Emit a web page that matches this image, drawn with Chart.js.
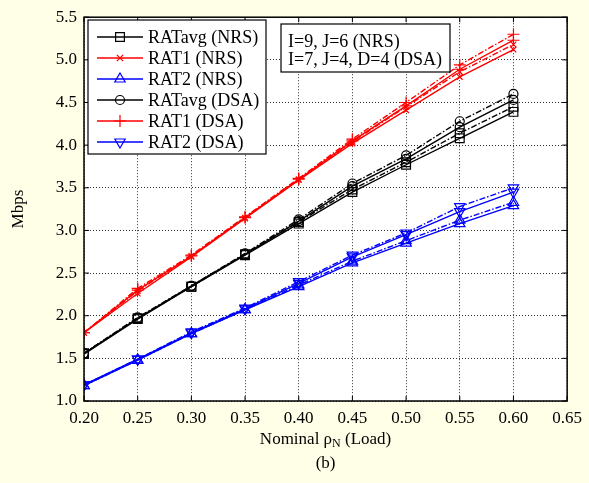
<!DOCTYPE html>
<html>
<head>
    <title>Mbps vs Nominal load</title>
    <script src="https://cdn.jsdelivr.net/npm/chart.js@4.4.1/dist/chart.umd.min.js"></script>
    <style>
        body { margin: 0; background: #fffee6; }
        .wrap { width: 589px; height: 483px; }
    </style>
</head>
<body>
    <div class="wrap"><canvas id="c" width="589" height="483"></canvas></div>

    <script>
        // load points (x axis)
        const loads = [0.20, 0.25, 0.30, 0.35, 0.40, 0.45, 0.50, 0.55, 0.60];
        const xTicks = [0.20, 0.25, 0.30, 0.35, 0.40, 0.45, 0.50, 0.55, 0.60, 0.65];
        const yTicks = [1.0, 1.5, 2.0, 2.5, 3.0, 3.5, 4.0, 4.5, 5.0, 5.5];

        // solid lines (legend entries)
        const ratAvgNrs = [1.55, 1.96, 2.34, 2.71, 3.08, 3.45, 3.77, 4.08, 4.39];
        const rat1Nrs   = [1.80, 2.26, 2.69, 3.14, 3.59, 4.02, 4.41, 4.80, 5.12];
        const rat2Nrs   = [1.18, 1.48, 1.79, 2.07, 2.34, 2.62, 2.85, 3.08, 3.29];
        const ratAvgDsa = [1.56, 1.97, 2.35, 2.72, 3.11, 3.52, 3.84, 4.21, 4.53];
        const rat1Dsa   = [1.80, 2.30, 2.70, 3.15, 3.60, 4.05, 4.46, 4.89, 5.23];
        const rat2Dsa   = [1.19, 1.49, 1.80, 2.08, 2.38, 2.69, 2.95, 3.22, 3.45];

        // dash-dot companions
        const ratAvgNrsDd = [1.56, 1.97, 2.34, 2.72, 3.10, 3.48, 3.80, 4.14, 4.45];
        const rat1NrsDd   = [1.80, 2.29, 2.70, 3.15, 3.60, 4.04, 4.45, 4.86, 5.18];
        const rat2NrsDd   = [1.18, 1.48, 1.79, 2.07, 2.36, 2.64, 2.88, 3.12, 3.33];
        const ratAvgDsaDd = [1.56, 1.98, 2.35, 2.73, 3.13, 3.55, 3.88, 4.28, 4.60];
        const rat1DsaDd   = [1.80, 2.32, 2.71, 3.16, 3.61, 4.07, 4.50, 4.94, 5.30];
        const rat2DsaDd   = [1.19, 1.49, 1.81, 2.09, 2.40, 2.71, 2.97, 3.28, 3.50];

        const infoLines = ['I=9, J=6 (NRS)', 'I=7, J=4, D=4 (DSA)'];

        const SERIF = '"Liberation Serif", "DejaVu Serif", serif';
        const DASHDOT = [6, 2, 1.5, 2];

        function pts(vals) {
            return vals.map((v, i) => ({ x: loads[i], y: v }));
        }

        function ds(label, vals, color, style, radius, rot, dash) {
            return {
                label: label,
                data: pts(vals),
                borderColor: color,
                borderWidth: 1.4,
                borderDash: dash || [],
                pointStyle: style,
                pointRadius: radius,
                pointRotation: rot,
                pointBorderColor: color,
                pointBackgroundColor: 'rgba(0,0,0,0)',
                pointBorderWidth: 1.2,
                showInLegend: !dash
            };
        }

        const datasets = [
            ds('RATavg (NRS)', ratAvgNrs, '#000', 'rect', 6.2, 0),
            ds('RAT1 (NRS)', rat1Nrs, '#ff0000', 'crossRot', 4, 0),
            ds('RAT2 (NRS)', rat2Nrs, '#0000ff', 'triangle', 6, 0),
            ds('RATavg (DSA)', ratAvgDsa, '#000', 'circle', 4.5, 0),
            ds('RAT1 (DSA)', rat1Dsa, '#ff0000', 'cross', 6, 0),
            ds('RAT2 (DSA)', rat2Dsa, '#0000ff', 'triangle', 6, 180),
            ds('', ratAvgNrsDd, '#000', 'rect', 6.2, 0, DASHDOT),
            ds('', rat1NrsDd, '#ff0000', 'crossRot', 4, 0, DASHDOT),
            ds('', rat2NrsDd, '#0000ff', 'triangle', 6, 0, DASHDOT),
            ds('', ratAvgDsaDd, '#000', 'circle', 4.5, 0, DASHDOT),
            ds('', rat1DsaDd, '#ff0000', 'cross', 6, 0, DASHDOT),
            ds('', rat2DsaDd, '#0000ff', 'triangle', 6, 180, DASHDOT)
        ];

        function marker(ctx, style, x, y, r, rot) {
            ctx.beginPath();
            if (style === 'rect') {
                const s = r * Math.SQRT1_2;
                ctx.rect(x - s, y - s, 2 * s, 2 * s);
            } else if (style === 'circle') {
                ctx.arc(x, y, r, 0, Math.PI * 2);
            } else if (style === 'triangle') {
                const d = rot === 180 ? -1 : 1;
                ctx.moveTo(x, y - d * r);
                ctx.lineTo(x + r * 0.866, y + d * r * 0.5);
                ctx.lineTo(x - r * 0.866, y + d * r * 0.5);
                ctx.closePath();
            } else if (style === 'cross') {
                ctx.moveTo(x - r, y); ctx.lineTo(x + r, y);
                ctx.moveTo(x, y - r); ctx.lineTo(x, y + r);
            } else if (style === 'crossRot') {
                const s = r * 0.8;
                ctx.moveTo(x - s, y - s); ctx.lineTo(x + s, y + s);
                ctx.moveTo(x - s, y + s); ctx.lineTo(x + s, y - s);
            }
            ctx.stroke();
        }

        const decor = {
            id: 'decor',
            beforeDraw(chart) {
                const { ctx, chartArea: a } = chart;
                ctx.save();
                ctx.fillStyle = '#fffee6';
                ctx.fillRect(0, 0, chart.width, chart.height);
                ctx.fillStyle = '#fff';
                ctx.fillRect(a.left, a.top, a.right - a.left, a.bottom - a.top);
                ctx.restore();
            },
            afterDraw(chart) {
                const { ctx, chartArea: a, scales } = chart;
                ctx.save();
                // frame
                ctx.strokeStyle = '#000';
                ctx.lineWidth = 1.5;
                ctx.setLineDash([]);
                ctx.strokeRect(a.left, a.top, a.right - a.left, a.bottom - a.top);
                // inward ticks
                ctx.lineWidth = 1;
                ctx.beginPath();
                xTicks.forEach(t => {
                    const px = scales.x.getPixelForValue(t);
                    ctx.moveTo(px, a.bottom); ctx.lineTo(px, a.bottom - 5);
                    ctx.moveTo(px, a.top); ctx.lineTo(px, a.top + 5);
                });
                yTicks.forEach(t => {
                    const py = scales.y.getPixelForValue(t);
                    ctx.moveTo(a.left, py); ctx.lineTo(a.left + 5, py);
                    ctx.moveTo(a.right, py); ctx.lineTo(a.right - 5, py);
                });
                ctx.stroke();

                // legend box
                const lx = 88, ly = 20, lw = 178, lh = 134;
                ctx.fillStyle = '#fff';
                ctx.fillRect(lx, ly, lw, lh);
                ctx.strokeStyle = '#000';
                ctx.lineWidth = 1.2;
                ctx.strokeRect(lx, ly, lw, lh);
                ctx.font = '18px ' + SERIF;
                ctx.textBaseline = 'middle';
                ctx.textAlign = 'left';
                let row = 0;
                chart.data.datasets.forEach(d => {
                    if (!d.showInLegend) return;
                    const cy = ly + 17 + row * 21;
                    ctx.strokeStyle = d.borderColor;
                    ctx.lineWidth = 1.4;
                    ctx.beginPath();
                    ctx.moveTo(97, cy); ctx.lineTo(143, cy);
                    ctx.stroke();
                    ctx.lineWidth = 1.2;
                    marker(ctx, d.pointStyle, 120, cy, d.pointRadius, d.pointRotation);
                    ctx.fillStyle = '#000';
                    ctx.fillText(d.label, 148, cy + 1);
                    row++;
                });

                // info box
                const bx = 281, by = 24, bw = 169, bh = 48;
                ctx.fillStyle = '#fff';
                ctx.fillRect(bx, by, bw, bh);
                ctx.strokeStyle = '#000';
                ctx.lineWidth = 1.2;
                ctx.strokeRect(bx, by, bw, bh);
                ctx.fillStyle = '#000';
                infoLines.forEach((t, i) => ctx.fillText(t, 288, 42 + i * 18));

                // axis titles
                const FS = 17;
                const main = 'Nominal \u03c1', sub = 'N', rest = ' (Load)';
                ctx.font = FS + 'px ' + SERIF;
                const w1 = ctx.measureText(main).width;
                const w3 = ctx.measureText(rest).width;
                ctx.font = '12px ' + SERIF;
                const w2 = ctx.measureText(sub).width;
                const cx = (a.left + a.right) / 2;
                const sx = cx - (w1 + w2 + w3) / 2;
                const ty = 440;
                ctx.textAlign = 'left';
                ctx.font = FS + 'px ' + SERIF;
                ctx.fillText(main, sx, ty);
                ctx.font = '12px ' + SERIF;
                ctx.fillText(sub, sx + w1, ty + 4);
                ctx.font = FS + 'px ' + SERIF;
                ctx.fillText(rest, sx + w1 + w2, ty);
                ctx.textAlign = 'center';
                ctx.fillText('(b)', cx, 464);

                ctx.translate(19, (a.top + a.bottom) / 2);
                ctx.rotate(-Math.PI / 2);
                ctx.fillText('Mbps', 0, 0);
                ctx.restore();
            }
        };

        new Chart(document.getElementById('c'), {
            type: 'line',
            data: { datasets: datasets },
            plugins: [decor],
            options: {
                responsive: false,
                animation: false,
                layout: { padding: { top: 16, right: 17, left: 0, bottom: 0 } },
                plugins: { legend: { display: false }, tooltip: { enabled: false } },
                scales: {
                    x: {
                        type: 'linear',
                        min: 0.2, max: 0.65,
                        afterFit: s => { s.height = 82; },
                        afterBuildTicks: s => { s.ticks = xTicks.map(v => ({ value: v })); },
                        ticks: {
                            color: '#000', padding: 7,
                            font: { family: SERIF, size: 17 },
                            callback: v => Number(v).toFixed(2)
                        },
                        grid: { color: '#333', lineWidth: 1, drawTicks: false },
                        border: { display: false, dash: [1, 2] }
                    },
                    y: {
                        min: 1.0, max: 5.5,
                        afterFit: s => { s.width = 84; },
                        afterBuildTicks: s => { s.ticks = yTicks.map(v => ({ value: v })); },
                        ticks: {
                            color: '#000', padding: 7,
                            font: { family: SERIF, size: 17 },
                            callback: v => Number(v).toFixed(1)
                        },
                        grid: { color: '#333', lineWidth: 1, drawTicks: false },
                        border: { display: false, dash: [1, 2] }
                    }
                }
            }
        });
    </script>
</body>
</html>
